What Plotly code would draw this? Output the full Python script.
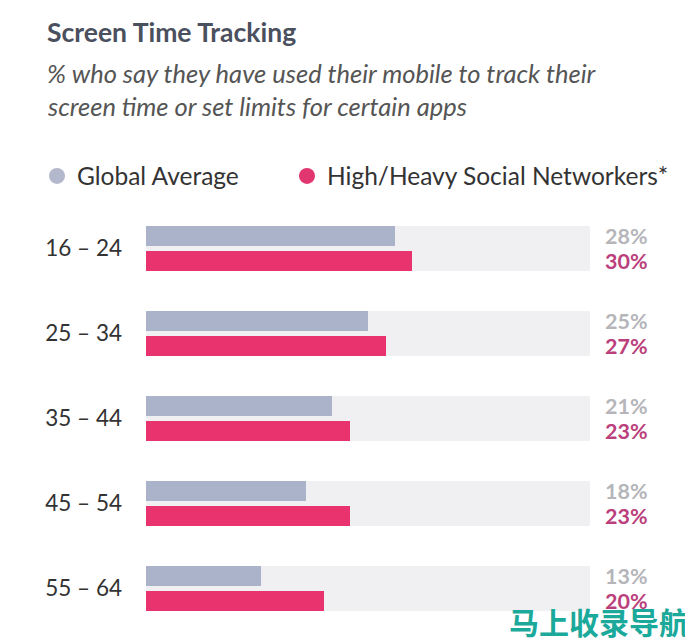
import plotly.graph_objects as go

age_groups = ["16 – 24", "25 – 34", "35 – 44", "45 – 54", "55 – 64"]
global_avg = [28, 25, 21, 18, 13]
heavy_social = [30, 27, 23, 23, 20]
track_max = [50, 50, 50, 50, 50]

GRAY = "#abb3cb"
PINK = "#e8336f"
TRACK = "#f0f0f2"
FONT = "Lato"

idx = list(range(len(age_groups)))
off = 0.147

# page body has an 8px margin; the figure is sized to fill the rest of the window
PAD = 8
FW, FH = 693 - PAD, 641 - PAD
L, T = 146 - PAD, 206 - PAD
W, H = 444, 425
R, B = FW - L - W, FH - T - H

def px_x(x):
    return (x - PAD - L) / W

def px_y(y):
    return (FH - (y - PAD) - B) / H

fig = go.Figure()
fig.add_trace(go.Bar(y=idx, x=track_max, orientation="h", width=0.53,
                     marker=dict(color=TRACK, line=dict(width=0)),
                     showlegend=False, hoverinfo="skip"))
fig.add_trace(go.Bar(y=[i - off for i in idx], x=global_avg, orientation="h", width=0.235,
                     marker=dict(color=GRAY, line=dict(width=0)), showlegend=False))
fig.add_trace(go.Bar(y=[i + off for i in idx], x=heavy_social, orientation="h", width=0.235,
                     marker=dict(color=PINK, line=dict(width=0)), showlegend=False))

# legend entries (circle markers)
fig.add_trace(go.Scatter(x=[None], y=[None], mode="markers", name="Global Average",
                         marker=dict(symbol="circle", size=16, color="#b4b8cc"), legend="legend"))
fig.add_trace(go.Scatter(x=[None], y=[None], mode="markers", name="High/Heavy Social Networkers*",
                         marker=dict(symbol="circle", size=16, color="#e23670"), legend="legend2"))

annotations = []
for i, (g, h) in enumerate(zip(global_avg, heavy_social)):
    annotations.append(dict(x=50, y=i - off, xref="x", yref="y", text=f"<b>{g}%</b>",
                            showarrow=False, xanchor="left", xshift=13,
                            font=dict(family=FONT, size=21.5, color="#b5b5ba")))
    annotations.append(dict(x=50, y=i + off, xref="x", yref="y", text=f"<b>{h}%</b>",
                            showarrow=False, xanchor="left", xshift=13,
                            font=dict(family=FONT, size=21.5, color="#bb3f7c")))

annotations.append(dict(x=px_x(45), y=px_y(32), xref="paper", yref="paper", text="<b>Screen Time Tracking</b>",
                        showarrow=False, xanchor="left", yanchor="middle",
                        font=dict(family=FONT, size=26.5, color="#4b505e")))
annotations.append(dict(x=px_x(45), y=px_y(73), xref="paper", yref="paper",
                        text="<i>% who say they have used their mobile to track their</i>",
                        showarrow=False, xanchor="left", yanchor="middle",
                        font=dict(family=FONT, size=25.5, color="#555555")))
annotations.append(dict(x=px_x(45), y=px_y(106), xref="paper", yref="paper",
                        text="<i>screen time or set limits for certain apps</i>",
                        showarrow=False, xanchor="left", yanchor="middle",
                        font=dict(family=FONT, size=25.5, color="#555555")))
annotations.append(dict(x=px_x(691), y=px_y(621), xref="paper", yref="paper",
                        text="<b>马上收录导航</b>",
                        showarrow=False, xanchor="right", yanchor="middle",
                        font=dict(family="Noto Sans CJK SC", size=30, color="#1ba99b")))

legend_common = dict(orientation="h", xanchor="left", yanchor="middle",
                     font=dict(family=FONT, size=24.5, color="#333333"),
                     itemsizing="trace", bgcolor="rgba(0,0,0,0)")

fig.update_layout(
    width=FW, height=FH,
    margin=dict(l=L, r=R, t=T, b=B),
    paper_bgcolor="white", plot_bgcolor="white",
    barmode="overlay", bargap=0,
    font=dict(family=FONT, color="#333333"),
    xaxis=dict(range=[0, 50], visible=False, fixedrange=True),
    yaxis=dict(range=[4.5, -0.5], tickvals=idx, ticktext=age_groups, showgrid=False,
               zeroline=False, showline=False, ticks="", ticklabelstandoff=23,
               tickfont=dict(family=FONT, size=22.5, color="#333333")),
    legend=dict(x=px_x(37), y=px_y(176), **legend_common),
    legend2=dict(x=px_x(287), y=px_y(176), **legend_common),
    annotations=annotations,
    showlegend=True,
)

fig.write_html("out.html")
